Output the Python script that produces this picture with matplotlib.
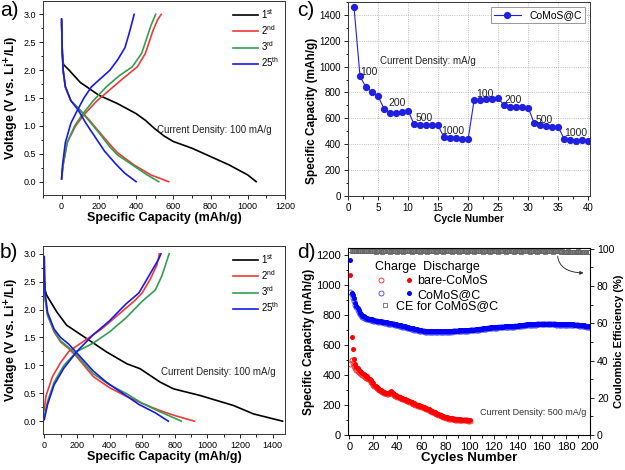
import matplotlib.pyplot as plt
from matplotlib.ticker import MultipleLocator
from matplotlib.legend_handler import HandlerTuple
from matplotlib.lines import Line2D

plt.rcParams['font.family'] = ['Liberation Sans', 'DejaVu Sans']
plt.rcParams['mathtext.fontset'] = 'custom'
plt.rcParams['mathtext.rm'] = 'Liberation Sans'

cycle_labels = ['1$^{\\mathrm{st}}$', '2$^{\\mathrm{nd}}$', '3$^{\\mathrm{rd}}$', '25$^{\\mathrm{th}}$']
cycle_colors = ['#000000', '#f03838', '#30a050', '#1818e8']

# panel a: bare CoMoS, 100 mA/g  (capacity mAh/g, voltage V)
a_dis_cap = [
    [0, 3, 10, 40, 100, 200, 300, 400, 450, 500, 550, 600, 700, 800, 900, 1000, 1045],
    [0, 3, 8, 20, 50, 100, 150, 200, 264, 300, 389, 480, 575],
    [0, 3, 8, 20, 50, 100, 150, 200, 260, 300, 380, 460, 522],
    [0, 3, 8, 20, 50, 90, 130, 180, 230, 290, 340, 400],
]
a_dis_v = [
    [2.9, 2.3, 2.1, 2.0, 1.78, 1.55, 1.4, 1.22, 1.1, 0.95, 0.82, 0.72, 0.6, 0.45, 0.3, 0.12, 0.0],
    [2.85, 2.4, 2.0, 1.7, 1.45, 1.28, 1.1, 0.9, 0.65, 0.52, 0.3, 0.12, 0.0],
    [2.85, 2.4, 2.0, 1.7, 1.45, 1.28, 1.08, 0.88, 0.62, 0.48, 0.3, 0.12, 0.0],
    [2.92, 2.4, 2.0, 1.7, 1.45, 1.28, 1.05, 0.8, 0.55, 0.32, 0.15, 0.0],
]
a_chg_cap = [
    [],
    [0, 8, 30, 75, 120, 190, 260, 330, 407, 450, 470, 490, 515, 535],
    [0, 8, 30, 70, 110, 170, 240, 310, 380, 430, 455, 480, 505],
    [0, 5, 20, 50, 80, 120, 160, 210, 260, 300, 340, 362, 390],
]
a_chg_v = [
    [],
    [0.05, 0.3, 0.7, 1.0, 1.2, 1.45, 1.65, 1.85, 2.06, 2.3, 2.5, 2.7, 2.9, 3.0],
    [0.05, 0.3, 0.7, 1.0, 1.2, 1.45, 1.7, 1.9, 2.06, 2.3, 2.55, 2.8, 3.0],
    [0.05, 0.3, 0.7, 1.05, 1.25, 1.5, 1.7, 1.85, 2.0, 2.18, 2.4, 2.65, 3.0],
]

# panel b: CoMoS@C, 100 mA/g
b_dis_cap = [
    [0, 5, 14, 76, 137, 260, 382, 505, 587, 710, 791, 955, 1160, 1282, 1460],
    [0, 5, 20, 60, 100, 150, 200, 300, 400, 500, 600, 700, 800, 920],
    [0, 5, 20, 60, 100, 150, 200, 300, 400, 500, 600, 700, 840],
    [0, 5, 20, 60, 100, 150, 200, 300, 380, 480, 580, 680, 760],
]
b_dis_v = [
    [2.5, 2.35, 2.26, 1.96, 1.72, 1.48, 1.24, 1.03, 0.94, 0.7, 0.58, 0.46, 0.28, 0.13, 0.0],
    [2.5, 2.2, 1.9, 1.6, 1.42, 1.3, 1.15, 0.8, 0.6, 0.45, 0.32, 0.2, 0.1, 0.0],
    [2.5, 2.2, 1.9, 1.62, 1.44, 1.32, 1.18, 0.85, 0.65, 0.5, 0.32, 0.18, 0.0],
    [2.95, 2.3, 1.95, 1.65, 1.5, 1.38, 1.22, 0.9, 0.7, 0.5, 0.3, 0.15, 0.0],
]
b_chg_cap = [
    [],
    [0, 10, 50, 100, 150, 250, 350, 450, 550, 600, 650, 690, 705],
    [0, 20, 60, 120, 200, 300, 400, 500, 600, 680, 720, 765],
    [0, 20, 60, 120, 200, 300, 400, 500, 580, 640, 700, 715],
]
b_chg_v = [
    [],
    [0.2, 0.45, 0.8, 1.05, 1.25, 1.45, 1.65, 1.9, 2.15, 2.3, 2.55, 2.8, 3.0],
    [0.1, 0.35, 0.7, 1.0, 1.25, 1.4, 1.6, 1.85, 2.15, 2.35, 2.6, 3.0],
    [0.03, 0.3, 0.65, 0.95, 1.25, 1.55, 1.8, 2.1, 2.3, 2.6, 2.9, 3.0],
]

# panel c: rate capability
c_cycles = list(range(1, 41))
c_capacity = [1460, 925, 840, 805, 770, 675, 645, 645, 648, 660,
              555, 550, 550, 545, 545, 452, 445, 445, 443, 437,
              740, 745, 752, 748, 757, 700, 690, 690, 690, 683,
              563, 550, 540, 535, 535, 440, 430, 428, 432, 425]
c_rate_text = ['100', '200', '500', '1000', '100', '200', '500', '1000']
c_rate_x = [3.5, 8.2, 12.7, 17.5, 22.8, 27.5, 32.7, 38.0]
c_rate_y = [960, 715, 605, 500, 790, 745, 590, 485]

# panel d: cycling at 500 mA/g
d_cycles_bare = list(range(1, 101))
d_cycles_c = list(range(1, 201))
bare_dis = [1065, 655, 570, 505, 470, 455, 445, 435, 425, 418,
            410, 405, 400, 395, 390, 382, 375, 365, 355, 345,
            335, 325, 318, 310, 303, 298, 293, 289, 285, 282,
            280, 280, 282, 288, 292, 280, 272, 268, 264, 260,
            256, 252, 249, 246, 242, 239, 235, 232, 229, 225,
            222, 218, 214, 210, 206, 203, 200, 197, 195, 192,
            189, 186, 183, 179, 175, 171, 167, 163, 159, 155,
            151, 147, 143, 139, 135, 131, 128, 125, 122, 119,
            117, 115, 113, 111, 110, 109, 108, 107, 106, 105,
            104, 104, 103, 103, 102, 102, 101, 101, 100, 100]
bare_chg = [475, 500, 480, 460, 445, 435, 428, 420, 412, 405,
            398, 393, 388, 383, 378, 371, 364, 355, 346, 336,
            327, 318, 311, 304, 298, 293, 288, 284, 280, 277,
            275, 275, 277, 282, 286, 275, 267, 263, 259, 255,
            251, 247, 244, 241, 237, 234, 230, 227, 224, 220,
            217, 213, 209, 205, 201, 198, 195, 192, 190, 187,
            184, 181, 178, 174, 170, 166, 162, 158, 154, 150,
            146, 142, 138, 134, 130, 127, 124, 121, 118, 115,
            113, 111, 109, 107, 106, 105, 104, 103, 102, 101,
            100, 100, 99, 99, 98, 98, 97, 97, 96, 96]
comos_dis = [1165, 945, 930, 910, 880, 860, 845, 830, 815, 805,
             795, 790, 785, 780, 778, 776, 775, 772, 770, 768,
             765, 763, 762, 760, 758, 757, 756, 755, 753, 752,
             750, 748, 747, 746, 745, 743, 742, 740, 738, 736,
             734, 732, 730, 728, 726, 724, 722, 720, 718, 716,
             714, 712, 710, 708, 706, 704, 702, 700, 698, 697,
             696, 695, 694, 693, 692, 691, 690, 690, 690, 690,
             690, 690, 690, 690, 690, 690, 690, 690, 690, 691,
             692, 692, 693, 693, 694, 694, 695, 695, 696, 696,
             697, 697, 698, 698, 699, 699, 700, 700, 701, 701,
             702, 702, 703, 703, 704, 705, 706, 707, 708, 709,
             710, 711, 712, 713, 714, 715, 716, 717, 718, 719,
             720, 720, 721, 721, 722, 722, 723, 723, 724, 724,
             725, 725, 726, 726, 727, 727, 728, 728, 729, 729,
             730, 731, 732, 733, 734, 735, 736, 737, 738, 738,
             739, 739, 740, 740, 741, 741, 742, 742, 742, 742,
             742, 742, 742, 742, 742, 742, 742, 742, 742, 742,
             742, 741, 741, 741, 740, 740, 740, 740, 740, 740,
             739, 739, 738, 738, 737, 737, 736, 736, 735, 735,
             734, 733, 732, 731, 730, 729, 728, 727, 726, 725]
comos_chg = [950, 940, 915, 890, 865, 850, 835, 820, 808, 798,
             788, 783, 778, 774, 772, 770, 768, 766, 764, 762,
             760, 758, 757, 755, 754, 752, 751, 750, 748, 747,
             745, 743, 742, 741, 740, 738, 737, 735, 733, 731,
             729, 727, 725, 723, 721, 719, 717, 715, 713, 711,
             709, 707, 705, 703, 701, 699, 697, 695, 694, 692,
             691, 690, 689, 688, 687, 686, 686, 685, 685, 685,
             685, 685, 685, 685, 685, 685, 686, 686, 686, 687,
             687, 688, 688, 689, 689, 690, 690, 691, 691, 692,
             692, 693, 693, 694, 694, 695, 695, 696, 696, 697,
             697, 698, 698, 699, 700, 701, 702, 703, 704, 705,
             706, 707, 708, 709, 710, 711, 712, 713, 714, 715,
             715, 716, 716, 717, 717, 718, 718, 719, 719, 720,
             720, 721, 721, 722, 722, 723, 723, 724, 724, 725,
             726, 727, 728, 729, 730, 731, 732, 733, 733, 734,
             734, 735, 735, 736, 736, 737, 737, 737, 737, 737,
             737, 737, 737, 737, 737, 737, 737, 737, 737, 737,
             737, 736, 736, 736, 735, 735, 735, 735, 735, 735,
             734, 734, 733, 733, 732, 732, 731, 731, 730, 730,
             729, 728, 727, 726, 725, 724, 723, 722, 721, 720]
comos_ce = [99.2, 98.6, 98.8, 98.9, 98.7, 98.9, 98.8, 98.6, 98.9, 98.7,
            98.8, 98.6, 98.9, 98.7, 98.8, 98.9, 98.6, 98.8, 98.7, 98.9,
            98.7, 98.5, 98.8, 98.6, 98.9, 98.7, 98.5, 98.8, 98.6, 98.7,
            98.9, 98.6, 98.8, 98.5, 98.7, 98.9, 98.6, 98.8, 98.7, 98.5,
            98.8, 98.6, 98.9, 98.7, 98.5, 98.8, 98.6, 98.7, 98.9, 98.6,
            98.7, 98.5, 98.8, 98.6, 98.9, 98.7, 98.6, 98.8, 98.5, 98.7,
            98.9, 98.6, 98.8, 98.7, 98.5, 98.8, 98.6, 98.9, 98.7, 98.6,
            98.8, 98.5, 98.7, 98.9, 98.6, 98.8, 98.7, 98.5, 98.8, 98.6,
            98.9, 98.7, 98.6, 98.8, 98.5, 98.7, 98.9, 98.6, 98.8, 98.7,
            98.5, 98.8, 98.6, 98.9, 98.7, 98.6, 98.8, 98.5, 98.7, 98.9,
            98.6, 98.8, 98.7, 98.5, 98.8, 98.6, 98.9, 98.7, 98.6, 98.8,
            98.5, 98.7, 98.9, 98.6, 98.8, 98.7, 98.5, 98.8, 98.6, 98.9,
            98.7, 98.6, 98.8, 98.5, 98.7, 98.9, 98.6, 98.8, 98.7, 98.5,
            98.8, 98.6, 98.9, 98.7, 98.6, 98.8, 98.5, 98.7, 98.9, 98.6,
            98.8, 98.7, 98.5, 98.8, 98.6, 98.9, 98.7, 98.6, 98.8, 98.5,
            98.7, 98.9, 98.6, 98.8, 98.7, 98.5, 98.8, 98.6, 98.9, 98.7,
            98.6, 98.8, 98.5, 98.7, 98.9, 98.6, 98.8, 98.7, 98.5, 98.8,
            98.6, 98.9, 98.7, 98.6, 98.8, 98.5, 98.7, 98.4, 98.3, 98.5,
            98.4, 98.6, 98.3, 98.5, 98.4, 98.2, 98.5, 98.3, 98.4, 98.6,
            98.3, 98.5, 98.2, 98.4, 98.3, 98.5, 98.2, 98.4, 98.3, 98.1]

fig = plt.figure(figsize=(6.25, 4.7), dpi=100)


def style_ax(ax, labelsize):
    ax.tick_params(which='both', direction='out', top=False, right=False,
                   labelsize=labelsize, width=0.6, pad=2)
    ax.tick_params(which='major', length=3)
    ax.tick_params(which='minor', length=1.8)
    for s in ax.spines.values():
        s.set_linewidth(0.7)
        s.set_color('#333333')


def voltage_panel(rect, dis_cap, dis_v, chg_cap, chg_v, xlim, ylim, text_x, text_y):
    ax = fig.add_axes(rect)
    for i in range(4):
        ax.plot(dis_cap[i], dis_v[i], color=cycle_colors[i], lw=1.2, label=cycle_labels[i])
        if chg_cap[i]:
            ax.plot(chg_cap[i], chg_v[i], color=cycle_colors[i], lw=1.2)
    ax.set_xlim(*xlim)
    ax.set_ylim(*ylim)
    ax.xaxis.set_major_locator(MultipleLocator(200))
    ax.xaxis.set_minor_locator(MultipleLocator(100))
    ax.yaxis.set_major_locator(MultipleLocator(0.5))
    ax.yaxis.set_minor_locator(MultipleLocator(0.25))
    style_ax(ax, 6.5)
    ax.set_xlabel('Specific Capacity (mAh/g)', fontsize=9, fontweight='bold', labelpad=1)
    ax.set_ylabel('Voltage (V vs. Li$^{\\mathbf{+}}$/Li)', fontsize=9, fontweight='bold', labelpad=2)
    ax.text(text_x, text_y, 'Current Density: 100 mA/g', fontsize=7, va='center', color='#222222')
    ax.legend(loc='upper right', frameon=False, fontsize=7, handlelength=2.6,
              labelspacing=0.25, borderaxespad=0.2, handletextpad=0.3)
    return ax


ax_a = voltage_panel([0.0688, 0.585, 0.3872, 0.413], a_dis_cap, a_dis_v, a_chg_cap, a_chg_v,
                     (-100, 1200), (-0.24, 3.24), 515, 0.92)
ax_b = voltage_panel([0.0688, 0.0766, 0.3872, 0.4], b_dis_cap, b_dis_v, b_chg_cap, b_chg_v,
                     (-8, 1475), (-0.23, 3.14), 715, 0.88)

# panel c
ax_c = fig.add_axes([0.5568, 0.583, 0.3872, 0.413])
ax_c.plot(c_cycles, c_capacity, color='#2020e0', lw=0.8, marker='o', ms=4.2,
          label='CoMoS@C')
for t, x, y in zip(c_rate_text, c_rate_x, c_rate_y):
    ax_c.text(x, y, t, fontsize=7.5, ha='center', va='center', color='#222222')
ax_c.text(5.3, 1040, 'Current Density: mA/g', fontsize=7, va='center', color='#222222')
ax_c.set_xlim(0, 40.3)
ax_c.set_ylim(0, 1500)
ax_c.xaxis.set_major_locator(MultipleLocator(5))
ax_c.xaxis.set_minor_locator(MultipleLocator(2.5))
ax_c.yaxis.set_major_locator(MultipleLocator(200))
ax_c.yaxis.set_minor_locator(MultipleLocator(100))
ax_c.grid(True, which='major', ls=':', lw=0.6, color='#aaaaaa')
style_ax(ax_c, 7)
ax_c.set_xlabel('Cycle Number', fontsize=7.5, fontweight='bold', labelpad=1)
ax_c.set_ylabel('Specific Capacity (mAh/g)', fontsize=8.5, fontweight='bold', labelpad=1)
ax_c.yaxis.set_label_coords(-0.125, 0.44)
leg_c = ax_c.legend(loc='upper right', fontsize=7.5, handlelength=2.6, borderaxespad=0.5,
                    fancybox=False, edgecolor='#888888', framealpha=1, borderpad=0.3)
leg_c.get_frame().set_linewidth(0.6)

# panel d
ax_d = fig.add_axes([0.5568, 0.0745, 0.3872, 0.398])
ax_e = ax_d.twinx()
ax_d.plot(d_cycles_bare, bare_chg, ls='none', marker='o', ms=3.6, mfc='none', mec='#ff2020', mew=0.6)
ax_d.plot(d_cycles_bare, bare_dis, ls='none', marker='o', ms=3.6, color='#ff0000', mew=0)
ax_d.plot(d_cycles_c, comos_chg, ls='none', marker='o', ms=3.6, mfc='none', mec='#4040ff', mew=0.6)
ax_d.plot(d_cycles_c, comos_dis, ls='none', marker='o', ms=3.6, color='#0000ff', mew=0)
ax_e.plot(d_cycles_c, comos_ce, ls='none', marker='s', ms=3.2, mfc='none', mec='#666666', mew=0.6)
ax_d.set_xlim(-1, 200)
ax_d.set_ylim(0, 1247)
ax_e.set_ylim(0, 100.5)
ax_d.xaxis.set_major_locator(MultipleLocator(20))
ax_d.xaxis.set_minor_locator(MultipleLocator(10))
ax_d.yaxis.set_major_locator(MultipleLocator(200))
ax_d.yaxis.set_minor_locator(MultipleLocator(100))
ax_e.yaxis.set_major_locator(MultipleLocator(20))
ax_e.yaxis.set_minor_locator(MultipleLocator(10))
style_ax(ax_d, 8)
ax_e.tick_params(which='both', direction='out', labelsize=7.5, width=0.6, pad=2)
ax_e.tick_params(which='major', length=3)
ax_e.tick_params(which='minor', length=1.8)
ax_d.set_xlabel('Cycles Number', fontsize=9.5, fontweight='bold', labelpad=0)
ax_d.set_ylabel('Specific Capacity (mAh/g)', fontsize=8.5, fontweight='bold', labelpad=1)
ax_e.set_ylabel('Coulombic Efficiency (%)', fontsize=8, fontweight='bold')
ax_e.yaxis.set_label_coords(1.1, 0.5)
ax_d.text(197, 150, 'Current Density: 500 mA/g', fontsize=6.5, ha='right', va='center',
          color='#333333')
ax_e.annotate('', xy=(197, 87), xytext=(173, 97.5),
              arrowprops=dict(arrowstyle='-|>', color='#333333', lw=0.7, mutation_scale=5,
                              connectionstyle='angle3,angleA=90,angleB=0'))

h_open_r = Line2D([], [], ls='none', marker='o', ms=3.6, mfc='none', mec='#ff2020', mew=0.6)
h_fill_r = Line2D([], [], ls='none', marker='o', ms=3.6, color='#ff0000', mew=0)
h_open_b = Line2D([], [], ls='none', marker='o', ms=3.6, mfc='none', mec='#4040ff', mew=0.6)
h_fill_b = Line2D([], [], ls='none', marker='o', ms=3.6, color='#0000ff', mew=0)
h_ce = Line2D([], [], ls='none', marker='s', ms=3.2, mfc='none', mec='#666666', mew=0.6)
leg1 = ax_e.legend([(h_open_r, h_fill_r), (h_open_b, h_fill_b)], ['bare-CoMoS', 'CoMoS@C'],
                   handler_map={tuple: HandlerTuple(ndivide=None, pad=1.2)},
                   loc='upper left', bbox_to_anchor=(0.065, 0.99), frameon=False,
                   fontsize=9, handlelength=3.2, handletextpad=0.2, labelspacing=0.15,
                   title='Charge  Discharge', title_fontsize=9, alignment='left')
ax_e.add_artist(leg1)
ax_e.legend([h_ce], ['CE for CoMoS@C'], loc='upper left', bbox_to_anchor=(0.08, 0.78),
            frameon=False, fontsize=9, handlelength=1, handletextpad=0.4)

fig.text(0.0, 0.997, 'a)', fontsize=15, va='top')
fig.text(0.476, 0.997, 'c)', fontsize=15, va='top')
fig.text(0.0, 0.483, 'b)', fontsize=15, va='top')
fig.text(0.476, 0.483, 'd)', fontsize=15, va='top')

fig.savefig('out.png', dpi=100)
